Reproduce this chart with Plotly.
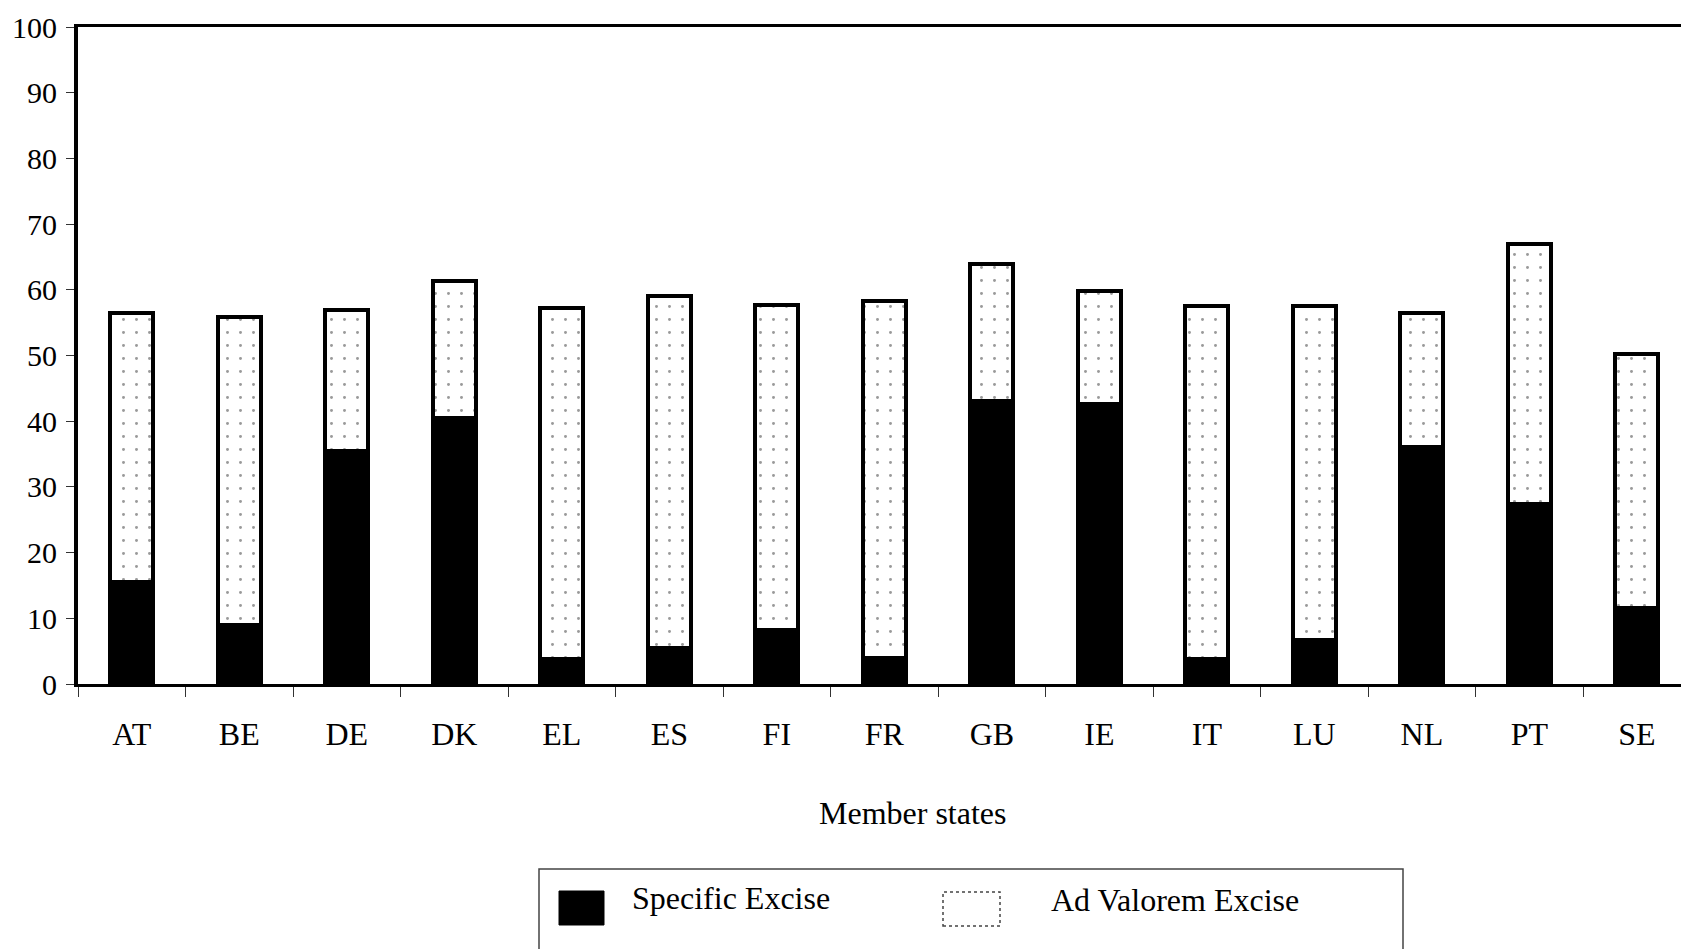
import plotly.graph_objects as go

countries = ["AT", "BE", "DE", "DK", "EL", "ES", "FI", "FR", "GB", "IE", "IT", "LU", "NL", "PT", "SE"]
specific_excise = [15.5, 9.0, 35.5, 40.5, 3.8, 5.5, 8.2, 3.9, 43.0, 42.6, 3.8, 6.7, 36.0, 27.4, 11.6]
ad_valorem_excise = [41.0, 46.8, 21.5, 20.8, 53.4, 53.5, 49.5, 54.4, 21.0, 17.2, 53.7, 50.8, 20.5, 39.6, 38.7]
y_ticks = [0, 10, 20, 30, 40, 50, 60, 70, 80, 90, 100]

FONT = "Liberation Serif"
W, H = 1681, 949
L, T, B, R = 78, 27, 265, 0
PW, PH = W - L - R, H - T - B

fig = go.Figure()
fig.add_trace(go.Bar(
    x=countries, y=specific_excise, name="Specific Excise",
    marker=dict(color="black", line=dict(color="black", width=4)),
))
fig.add_trace(go.Bar(
    x=countries, y=ad_valorem_excise, name="Ad Valorem Excise",
    marker=dict(color="white", line=dict(color="black", width=4),
                pattern=dict(shape=".", fgcolor="#333333", bgcolor="white",
                             size=13, solidity=0.04)),
))

fig.update_layout(
    width=W, height=H,
    margin=dict(l=L, r=R, t=T, b=B, pad=0),
    barmode="stack", bargap=0.6,
    plot_bgcolor="white", paper_bgcolor="white",
    showlegend=False,
    font=dict(family=FONT, size=30, color="black"),
)
fig.update_xaxes(
    type="category", range=[-0.5, 14.41],
    showline=True, linecolor="black", linewidth=3, mirror=True,
    ticks="outside", tickson="boundaries", ticklen=10, tickwidth=1, tickcolor="#333",
    ticklabelstandoff=20,
    showgrid=False, zeroline=False,
    tickfont=dict(family=FONT, size=32, color="black"),
)
fig.update_yaxes(
    range=[0, 100], tickvals=y_ticks,
    showline=True, linecolor="black", linewidth=4, mirror=False,
    ticks="outside", ticklen=8, tickwidth=1, tickcolor="#333",
    ticklabelstandoff=3,
    showgrid=False, zeroline=False,
    tickfont=dict(family=FONT, size=30, color="black"),
)

def px_x(v):
    return (v - L) / PW
def px_y(v):
    return (H - B - v) / PH

# x-axis title
fig.add_annotation(text="Member states", xref="paper", yref="paper",
                   x=px_x(913), y=px_y(813), xanchor="center", yanchor="middle",
                   showarrow=False, font=dict(family=FONT, size=32, color="black"))

# manual legend
shapes = [
    dict(type="rect", xref="paper", yref="paper",
         x0=px_x(539), x1=px_x(1403), y0=px_y(960), y1=px_y(869),
         line=dict(color="#444", width=1.5), fillcolor="rgba(0,0,0,0)"),
    dict(type="rect", xref="paper", yref="paper",
         x0=px_x(559), x1=px_x(604), y0=px_y(925), y1=px_y(891),
         line=dict(color="black", width=1), fillcolor="black"),
    dict(type="rect", xref="paper", yref="paper",
         x0=px_x(943), x1=px_x(1000), y0=px_y(926), y1=px_y(892),
         line=dict(color="#444", width=1.5, dash="dot"), fillcolor="white"),
]
fig.update_layout(shapes=shapes)
fig.add_annotation(text="Specific Excise", xref="paper", yref="paper",
                   x=px_x(630), y=px_y(898), xanchor="left", yanchor="middle",
                   showarrow=False, font=dict(family=FONT, size=32, color="black"))
fig.add_annotation(text="Ad Valorem Excise", xref="paper", yref="paper",
                   x=px_x(1049), y=px_y(900), xanchor="left", yanchor="middle",
                   showarrow=False, font=dict(family=FONT, size=32, color="black"))

fig.write_html("out.html")
